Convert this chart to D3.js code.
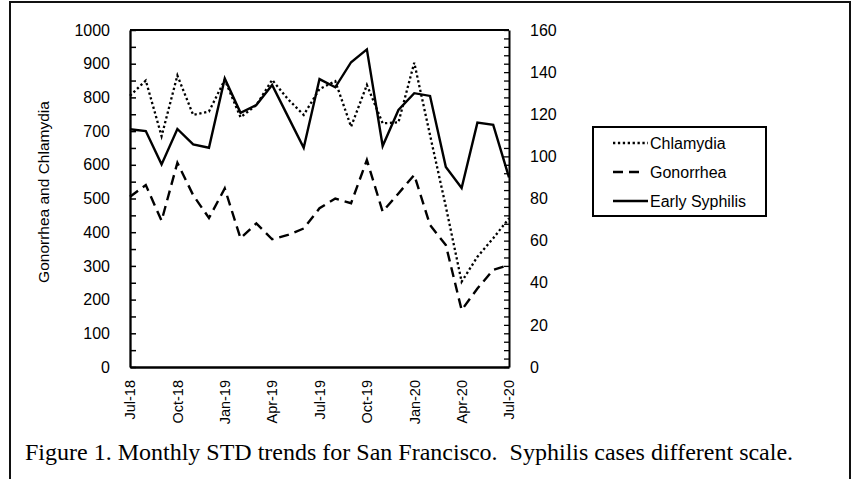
<!DOCTYPE html>
<html>
<head>
<meta charset="utf-8">
<script src="https://cdn.jsdelivr.net/npm/d3@7/dist/d3.min.js"></script>
<style>
  body { margin: 0; background: #fff; }
  svg { display: block; }
  text { font-family: "Liberation Sans", Arial, sans-serif; fill: #000; }
</style>
</head>
<body>
<svg id="chart" width="855" height="479"></svg>
<script>
// ---- data ----
const months = ["Jul-18","Aug-18","Sep-18","Oct-18","Nov-18","Dec-18","Jan-19","Feb-19","Mar-19","Apr-19","May-19","Jun-19",
                "Jul-19","Aug-19","Sep-19","Oct-19","Nov-19","Dec-19","Jan-20","Feb-20","Mar-20","Apr-20","May-20","Jun-20","Jul-20"];
const chlamydia = [805, 850, 685, 865, 748, 758, 852, 741, 777, 852, 795, 748, 825, 848, 713, 837, 723, 726, 903, 688, 476, 253, 327, 382, 441];
const gonorrhea = [505, 540, 434, 606, 510, 442, 530, 382, 426, 379, 392, 411, 471, 500, 486, 614, 461, 515, 570, 421, 362, 169, 233, 288, 303];
const syphilis  = [112.9, 112, 96.2, 113, 105.7, 104.1, 137, 120.7, 124.4, 133.9, 119, 104.1, 136.7, 132.8, 144.7, 150.8, 104.9, 122, 130, 128.7, 95, 85, 116, 115, 90];
const xTickLabels = ["Jul-18","Oct-18","Jan-19","Apr-19","Jul-19","Oct-19","Jan-20","Apr-20","Jul-20"];
const leftTicks = d3.range(0, 1001, 50);
const rightTicks = d3.range(0, 161, 4);
const legendItems = ["Chlamydia", "Gonorrhea", "Early Syphilis"];
const caption = "Figure 1. Monthly STD trends for San Francisco.  Syphilis cases different scale.";
const yTitle = "Gonorrhea and Chlamydia";

// ---- layout ----
const L = 130, R = 509, T = 30, B = 367;
const svg = d3.select("#chart");

// outer frame
svg.append("rect").attr("x", 10).attr("y", 2).attr("width", 840).attr("height", 500)
  .attr("fill", "none").attr("stroke", "#111").attr("stroke-width", 2);

const x = d3.scaleLinear().domain([0, months.length - 1]).range([L, R]);
const yL = d3.scaleLinear().domain([0, 1000]).range([B, T]);
const yR = d3.scaleLinear().domain([0, 160]).range([B, T]);

const styles = {
  Chlamydia: { dash: "2.3,2.6", w: 2.3 },
  Gonorrhea: { dash: "10,6", w: 2.4 },
  "Early Syphilis": { dash: null, w: 2.4 }
};

// top frame line
svg.append("line").attr("x1", L).attr("x2", R).attr("y1", T).attr("y2", T)
  .attr("stroke", "#000").attr("stroke-width", 2);

// left axis
const gL = svg.append("g").attr("transform", `translate(${L},0)`)
  .call(d3.axisLeft(yL).tickValues(leftTicks).tickSizeInner(-6).tickSizeOuter(0).tickPadding(20)
    .tickFormat(d => d % 100 === 0 ? d : ""));
gL.select(".domain").attr("stroke-width", 2.3);
gL.selectAll(".tick line").attr("stroke-width", 1.5);
gL.selectAll("text").style("font-size", "16px").attr("font-family", null);

// right axis
const gR = svg.append("g").attr("transform", `translate(${R},0)`)
  .call(d3.axisRight(yR).tickValues(rightTicks).tickSizeInner(-5).tickSizeOuter(0).tickPadding(21)
    .tickFormat(d => d % 20 === 0 ? d : ""));
gR.select(".domain").attr("stroke-width", 2);
gR.selectAll(".tick line").attr("stroke-width", 1.3);
gR.selectAll("text").style("font-size", "16px").attr("font-family", null);

// bottom axis
const gB = svg.append("g").attr("transform", `translate(0,${B})`)
  .call(d3.axisBottom(x).tickValues(xTickLabels.map(l => months.indexOf(l))).tickSize(0).tickSizeOuter(0)
    .tickFormat(i => months[i]));
gB.select(".domain").attr("stroke-width", 2.3);
gB.selectAll("text")
  .attr("font-family", null)
  .style("font-size", "14.5px")
  .attr("transform", "rotate(-90)")
  .attr("x", -13).attr("y", 0).attr("dy", "0.33em")
  .style("text-anchor", "end");

// y title
svg.append("text").attr("transform", "translate(49,192) rotate(-90)")
  .attr("text-anchor", "middle").style("font-size", "15.5px").text(yTitle);

// lines
const lineL = d3.line().x((d, i) => x(i)).y(d => yL(d));
const lineR = d3.line().x((d, i) => x(i)).y(d => yR(d));
const series = [
  { name: "Chlamydia", values: chlamydia, gen: lineL },
  { name: "Gonorrhea", values: gonorrhea, gen: lineL },
  { name: "Early Syphilis", values: syphilis, gen: lineR }
];
series.forEach(s => {
  svg.append("path").attr("d", s.gen(s.values))
    .attr("fill", "none").attr("stroke", "#000")
    .attr("stroke-width", styles[s.name].w)
    .attr("stroke-dasharray", styles[s.name].dash)
    .attr("stroke-linejoin", "miter");
});

// legend
const lg = svg.append("g");
lg.append("rect").attr("x", 593).attr("y", 127).attr("width", 173).attr("height", 89)
  .attr("fill", "#fff").attr("stroke", "#000").attr("stroke-width", 2);
legendItems.forEach((name, i) => {
  const cy = 143 + i * 29;
  lg.append("line").attr("x1", 613).attr("x2", name === "Gonorrhea" ? 641 : 648).attr("y1", cy).attr("y2", cy)
    .attr("stroke", "#000").attr("stroke-width", styles[name].w)
    .attr("stroke-dasharray", styles[name].dash);
  lg.append("text").attr("x", 650).attr("y", cy).attr("dy", "0.35em")
    .style("font-size", "16px").text(name);
});

// caption
svg.append("text").attr("x", 25).attr("y", 460)
  .style("font-family", "'Liberation Serif', 'Times New Roman', serif")
  .style("font-size", "24px").style("white-space", "pre")
  .text(caption);
</script>
</body>
</html>
